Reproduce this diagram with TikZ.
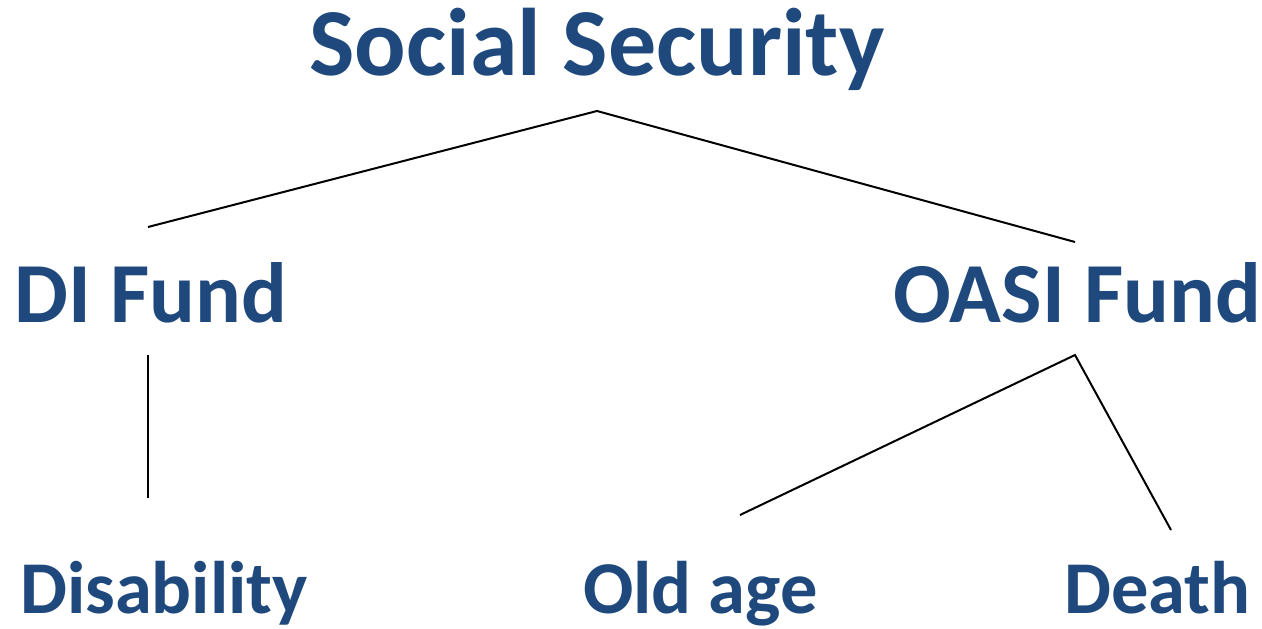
\documentclass[tikz,border=0pt]{standalone}
\usepackage{fontspec}
\setmainfont{Carlito}
\definecolor{titleblue}{HTML}{1F497D}
\begin{document}
\begin{tikzpicture}[x=1pt,y=-1pt,
  label/.style={inner sep=0pt,anchor=base west,text=titleblue,font=\bfseries},
  big/.style={label,font=\bfseries\fontsize{96}{96}\selectfont},
  mid/.style={label,font=\bfseries\fontsize{85.5}{86}\selectfont},
  small/.style={label,font=\bfseries\fontsize{74.5}{75}\selectfont},
  branch/.style={line width=2pt,black}]
\useasboundingbox (0,0) rectangle (1262,629);
% labels of the tree
\node[big]   (ss)    at (309,75)   {Social Security};
\node[mid]   (di)    at (14,322)   {DI Fund};
\node[mid]   (oasi)  at (893,322)  {OASI Fund};
\node[small] (dis)   at (20,613)   {Disability};
\node[small] (old)   at (583,613)  {Old age};
\node[small] (death) at (1064,613) {Death};
% end points of the branches
\coordinate (ssB)    at (597,111);
\coordinate (diT)    at (148,227);
\coordinate (oasiT)  at (1075,242);
\coordinate (diB)    at (148,355);
\coordinate (disT)   at (148,498);
\coordinate (oasiB)  at (1075,355);
\coordinate (oldT)   at (740,515);
\coordinate (deathT) at (1171,530);
% branches
\draw[branch] (diT) -- (ssB) -- (oasiT);
\draw[branch] (diB) -- (disT);
\draw[branch] (oldT) -- (oasiB) -- (deathT);
\end{tikzpicture}
\end{document}
